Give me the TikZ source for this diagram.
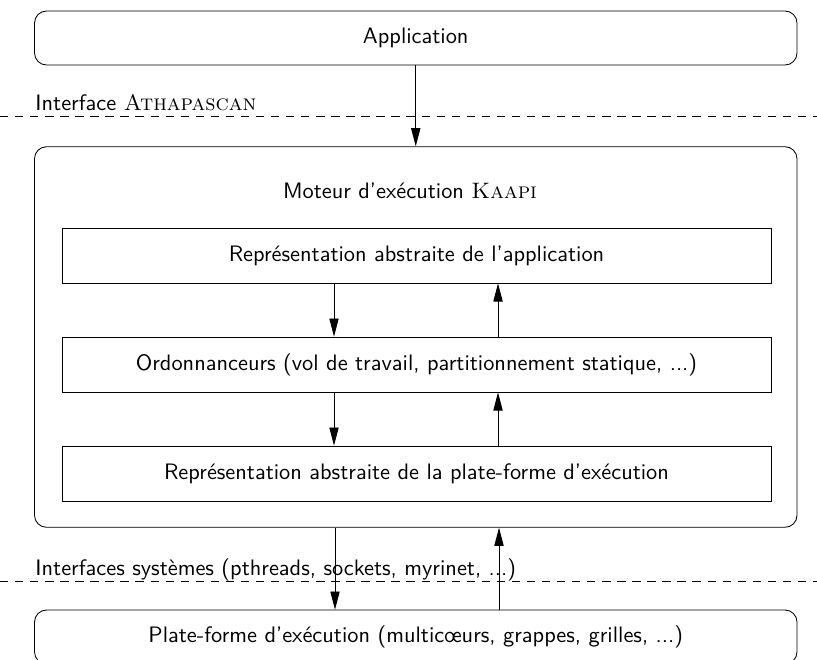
\documentclass[tikz,border=0pt]{standalone}
\usepackage{fontspec}
\usetikzlibrary{arrows.meta,calc}
\def\u{0.465pt}
\tikzset{
  roundbox/.style={draw, rounded corners=5.6pt, minimum width={762.5*\u}, inner sep=0pt},
  flatbox/.style={draw, minimum width={709*\u}, minimum height={55*\u}, inner sep=0pt},
  arr/.style={-{Triangle[length=8.4pt,width=4.3pt]}},
  sepline/.style={dash pattern=on 3.9pt off 3.1pt},
  lbl/.style={anchor=base west, inner sep=0pt}
}
\begin{document}
\begin{tikzpicture}[x=\u, y=-\u, font=\fontsize{10.4pt}{12.5pt}\selectfont\sffamily]
\useasboundingbox (0,0) rectangle (817,659);
% boxes
\node[roundbox, minimum height={54*\u}] (app) at (415.75,38) {Application};
\node[roundbox, minimum height={380.6*\u}] (kaapi) at (415.75,337) {};
\node (kaapilabel) at (410,191) {Moteur d'exécution {\rmfamily\textsc{Kaapi}}};
\node[flatbox] (r1) at (416.5,255.5) {Représentation abstraite de l'application};
\node[flatbox] (r2) at (416.5,364.5) {Ordonnanceurs (vol de travail, partitionnement statique, ...)};
\node[flatbox] (r3) at (416.5,473.5) {Représentation abstraite de la plate-forme d'exécution};
\node[roundbox, minimum height={54*\u}] (plat) at (415.75,637) {Plate-forme d'exécution (multicœurs, grappes, grilles, ...)};
% interface lines and labels
\coordinate (l1a) at (0,116.7);
\coordinate (l1b) at (817,116.7);
\coordinate (l2a) at (0,581);
\coordinate (l2b) at (817,581);
\draw[sepline] (l1a) -- (l1b);
\draw[sepline] (l2a) -- (l2b);
\node[lbl] (ifa) at (35,110) {Interface {\rmfamily\textsc{Athapascan}}};
\node[lbl] (ifs) at (35,575) {Interfaces systèmes (pthreads, sockets, myrinet, ...)};
% arrows
\draw[arr] (app.south) -- (kaapi.north);
\draw[arr] ([xshift={-82.5*\u}]r1.south) -- ([xshift={-82.5*\u}]r2.north);
\draw[arr] ([xshift={81.5*\u}]r2.north) -- ([xshift={81.5*\u}]r1.south);
\draw[arr] ([xshift={-82.5*\u}]r2.south) -- ([xshift={-82.5*\u}]r3.north);
\draw[arr] ([xshift={81.5*\u}]r3.north) -- ([xshift={81.5*\u}]r2.south);
\draw[arr] ([xshift={-80.75*\u}]kaapi.south) -- ([xshift={-80.75*\u}]plat.north);
\draw[arr] ([xshift={83.25*\u}]plat.north) -- ([xshift={83.25*\u}]kaapi.south);
\end{tikzpicture}
\end{document}
